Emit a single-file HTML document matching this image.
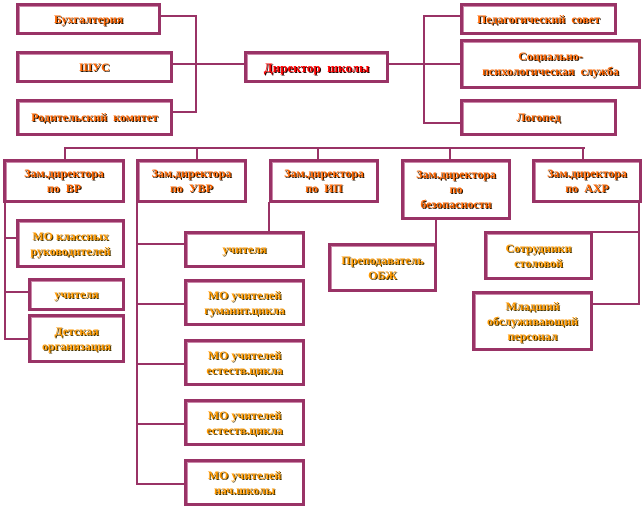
<!DOCTYPE html>
<html><head><meta charset="utf-8"><style>
body{margin:0;width:644px;height:509px;background:#fff;position:relative;overflow:hidden}
.b{position:absolute;box-sizing:border-box;border:3px solid #993366;box-shadow:inset 1px 1px 0 #cc88aa;background:#fff;display:flex;align-items:center;justify-content:center;text-align:center;font-family:"Liberation Serif","DejaVu Serif",serif;font-weight:bold;font-size:12px;line-height:15px;color:#ff6600;text-shadow:1px 1px 0 #221100}
.y{color:#ff9900;text-shadow:1px 1px 0 #443300}
.r{color:#ff0000;text-shadow:1px 1px 0 #220000;font-size:13px}
.h{position:absolute;height:2px;background:#993366}
.v{position:absolute;width:2px;background:#993366}
</style></head><body>
<div class="h" style="left:160px;top:15px;width:37px"></div>
<div class="h" style="left:172px;top:63px;width:72px"></div>
<div class="h" style="left:172px;top:111px;width:25px"></div>
<div class="v" style="left:195px;top:15px;height:98px"></div>
<div class="h" style="left:388px;top:63px;width:72px"></div>
<div class="v" style="left:423px;top:15px;height:109px"></div>
<div class="h" style="left:423px;top:15px;width:37px"></div>
<div class="h" style="left:423px;top:122px;width:37px"></div>
<div class="h" style="left:64px;top:147px;width:521px"></div>
<div class="v" style="left:64px;top:147px;height:12px"></div>
<div class="v" style="left:196px;top:147px;height:12px"></div>
<div class="v" style="left:317px;top:147px;height:12px"></div>
<div class="v" style="left:449px;top:147px;height:12px"></div>
<div class="v" style="left:582px;top:147px;height:12px"></div>
<div class="v" style="left:4px;top:202px;height:138px"></div>
<div class="h" style="left:4px;top:237px;width:14px"></div>
<div class="h" style="left:4px;top:291px;width:26px"></div>
<div class="h" style="left:4px;top:338px;width:26px"></div>
<div class="v" style="left:136px;top:202px;height:283px"></div>
<div class="h" style="left:136px;top:243px;width:48px"></div>
<div class="h" style="left:136px;top:303px;width:48px"></div>
<div class="h" style="left:136px;top:363px;width:48px"></div>
<div class="h" style="left:136px;top:423px;width:48px"></div>
<div class="h" style="left:136px;top:483px;width:48px"></div>
<div class="v" style="left:268px;top:202px;height:30px"></div>
<div class="v" style="left:435px;top:219px;height:25px"></div>
<div class="v" style="left:638px;top:202px;height:103px"></div>
<div class="h" style="left:592px;top:231px;width:48px"></div>
<div class="h" style="left:592px;top:303px;width:48px"></div>

<div class="b" style="left:16px;top:3px;width:145px;height:32px">Бухгалтерия</div>
<div class="b" style="left:16px;top:51px;width:157px;height:32px">ШУС</div>
<div class="b" style="left:16px;top:99px;width:157px;height:37px">Родительский&nbsp; комитет</div>
<div class="b r" style="left:244px;top:51px;width:145px;height:32px">Директор&nbsp; школы</div>
<div class="b" style="left:460px;top:3px;width:157px;height:32px">Педагогический&nbsp; совет</div>
<div class="b" style="left:460px;top:39px;width:181px;height:50px">Социально-<br>психологическая&nbsp; служба</div>
<div class="b" style="left:460px;top:99px;width:157px;height:37px">Логопед</div>

<div class="b" style="left:3px;top:159px;width:122px;height:44px">Зам.директора<br>по&nbsp; ВР</div>
<div class="b" style="left:136px;top:159px;width:111px;height:44px">Зам.директора<br>по&nbsp; УВР</div>
<div class="b" style="left:269px;top:159px;width:110px;height:44px">Зам.директора<br>по&nbsp; ИП</div>
<div class="b" style="left:401px;top:159px;width:110px;height:61px">Зам.директора<br>по<br>безопасности</div>
<div class="b" style="left:532px;top:159px;width:110px;height:44px">Зам.директора<br>по&nbsp; АХР</div>

<div class="b y" style="left:16px;top:219px;width:109px;height:49px">МО классных<br>руководителей</div>
<div class="b y" style="left:28px;top:278px;width:97px;height:33px">учителя</div>
<div class="b y" style="left:28px;top:314px;width:97px;height:49px">Детская<br>организация</div>

<div class="b y" style="left:184px;top:231px;width:121px;height:37px">учителя</div>
<div class="b y" style="left:184px;top:279px;width:121px;height:47px">МО учителей<br>гуманит.цикла</div>
<div class="b y" style="left:184px;top:339px;width:121px;height:47px">МО учителей<br>естеств.цикла</div>
<div class="b y" style="left:184px;top:399px;width:121px;height:47px">МО учителей<br>естеств.цикла</div>
<div class="b y" style="left:184px;top:459px;width:121px;height:47px">МО учителей<br>нач.школы</div>

<div class="b y" style="left:328px;top:243px;width:109px;height:49px">Преподаватель<br>ОБЖ</div>
<div class="b y" style="left:484px;top:231px;width:109px;height:49px">Сотрудники<br>столовой</div>
<div class="b y" style="left:472px;top:291px;width:121px;height:60px">Младший<br>обслуживающий<br>персонал</div>
</body></html>
